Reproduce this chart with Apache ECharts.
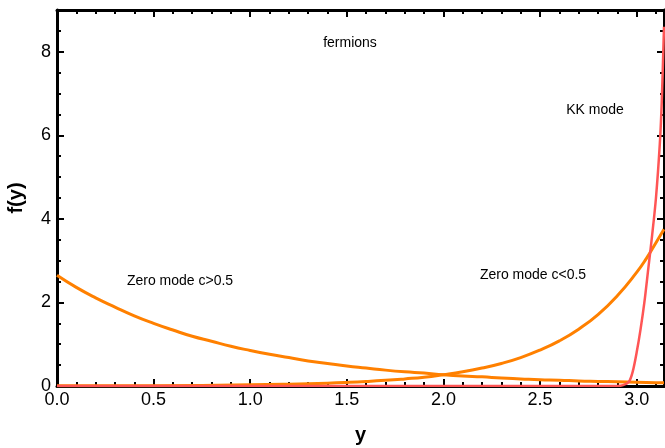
<!DOCTYPE html>
<html>
<head>
<meta charset="utf-8">
<script src="https://cdn.jsdelivr.net/npm/echarts@6/dist/echarts.min.js"></script>
<style>
  html, body { margin: 0; padding: 0; background: #fff; }
  #cn { width: 665px; height: 448px; }
</style>
</head>
<body>
<div id="cn"></div>
<script>
'use strict';

// zero mode c>0.5 (decaying)
const decayX = [0, 0.1, 0.2, 0.3, 0.4, 0.5, 0.6, 0.7, 0.8, 0.9, 1.0, 1.1, 1.2, 1.3, 1.4, 1.5, 1.6,
    1.7, 1.8, 1.9, 2.0, 2.1, 2.2, 2.3, 2.4, 2.5, 2.6, 2.7, 2.8, 2.9, 3.0, 3.1, 3.1416];
const decayY = [2.65, 2.36, 2.11, 1.89, 1.68, 1.50, 1.34, 1.19, 1.07, 0.95, 0.85, 0.76, 0.68, 0.60, 0.54, 0.48, 0.43,
    0.38, 0.34, 0.31, 0.27, 0.24, 0.22, 0.19, 0.17, 0.15, 0.14, 0.12, 0.11, 0.10, 0.09, 0.08, 0.075];

// zero mode c<0.5 (rising)
const riseX = [0, 0.5, 1.0, 1.2, 1.4, 1.5, 1.6, 1.7, 1.8, 1.9, 2.0, 2.1, 2.2, 2.3, 2.4, 2.5, 2.6,
    2.7, 2.8, 2.9, 3.0, 3.05, 3.1, 3.1416];
const riseY = [0.003, 0.008, 0.027, 0.043, 0.068, 0.085, 0.107, 0.135, 0.17, 0.21, 0.27, 0.34, 0.43, 0.54, 0.68, 0.86, 1.08,
    1.36, 1.71, 2.16, 2.72, 3.05, 3.43, 3.75];

// KK mode
const kkX = [0, 1.0, 2.0, 2.9, 2.93, 2.96, 2.98, 3.0, 3.02, 3.04, 3.06, 3.08, 3.1, 3.12, 3.13, 3.1416];
const kkY = [0, 0, 0, 0, 0.02, 0.1, 0.35, 0.8, 1.35, 2.0, 2.8, 3.6, 4.5, 5.8, 6.8, 8.6];

const notes = [
    { text: 'fermions', x: 350, y: 43 },
    { text: 'KK mode', x: 595, y: 110 },
    { text: 'Zero mode c>0.5', x: 180, y: 281 },
    { text: 'Zero mode c<0.5', x: 533, y: 275 }
];

const FONT = '"Liberation Sans", Arial, sans-serif';
const pairs = (xs, ys) => xs.map((x, i) => [x, ys[i]]);

const frameAxis = (extra) => Object.assign({
    type: 'value',
    axisLine: { show: true, onZero: false, lineStyle: { color: '#000', width: 3 } },
    axisTick: { show: true, inside: true, length: 7, lineStyle: { color: '#000', width: 2 } },
    splitLine: { show: false },
    axisLabel: { show: false }
}, extra);

const xOpt = { min: 0, max: 3.1416, interval: 0.5, minorTick: { show: true, splitNumber: 5, length: 4, lineStyle: { color: '#000', width: 2 } } };
const yOpt = { min: 0, max: 9, interval: 2, minorTick: { show: true, splitNumber: 4, length: 4, lineStyle: { color: '#000', width: 2 } } };

const chart = echarts.init(document.getElementById('cn'));

const option = {
    animation: false,
    textStyle: { fontFamily: FONT },
    grid: { left: 57, right: 1, top: 10, bottom: 62, containLabel: false, outerBoundsMode: 'none' },
    xAxis: [
        frameAxis(Object.assign({}, xOpt, {
            position: 'bottom',
            name: 'y',
            nameLocation: 'middle',
            nameGap: 39,
            nameTextStyle: { fontSize: 20, fontWeight: 'bold', color: '#000', fontFamily: FONT },
            axisLabel: {
                show: true, color: '#000', fontSize: 18, fontFamily: FONT, margin: 5,
                showMaxLabel: false,
                formatter: v => v.toFixed(1)
            }
        })),
        frameAxis(Object.assign({}, xOpt, { position: 'top' }))
    ],
    yAxis: [
        frameAxis(Object.assign({}, yOpt, {
            position: 'left',
            name: 'f(y)',
            nameLocation: 'middle',
            nameGap: 31,
            nameRotate: 90,
            nameTextStyle: { fontSize: 20, fontWeight: 'bold', color: '#000', fontFamily: FONT },
            axisLabel: {
                show: true, color: '#000', fontSize: 18, fontFamily: FONT, margin: 6,
                showMaxLabel: false
            }
        })),
        frameAxis(Object.assign({}, yOpt, { position: 'right' }))
    ],
    graphic: notes.map(n => ({
        type: 'text',
        x: n.x,
        y: n.y,
        z: 10,
        style: {
            text: n.text,
            fill: '#000',
            font: '14px ' + FONT,
            align: 'center',
            verticalAlign: 'middle'
        }
    })),
    series: [
        {
            name: 'Zero mode c>0.5',
            type: 'line',
            data: pairs(decayX, decayY),
            smooth: true,
            showSymbol: false,
            lineStyle: { color: '#ff8000', width: 3 },
            itemStyle: { color: '#ff8000' }
        },
        {
            name: 'Zero mode c<0.5',
            type: 'line',
            data: pairs(riseX, riseY),
            smooth: true,
            showSymbol: false,
            lineStyle: { color: '#ff8000', width: 3 },
            itemStyle: { color: '#ff8000' }
        },
        {
            name: 'KK mode',
            type: 'line',
            data: pairs(kkX, kkY),
            smooth: 0.3,
            showSymbol: false,
            lineStyle: { color: '#ff5555', width: 2.5 },
            itemStyle: { color: '#ff5555' }
        }
    ]
};

chart.setOption(option);
</script>
</body>
</html>
